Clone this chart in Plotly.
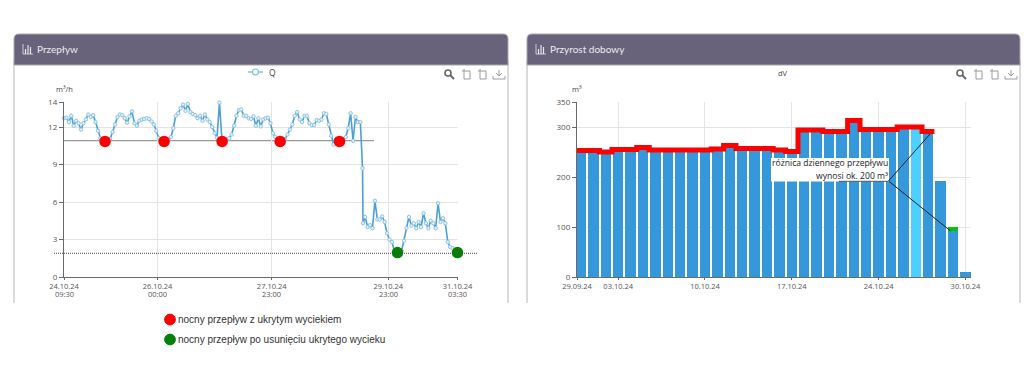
import pandas as pd
import plotly.graph_objects as go

# ---------- data ----------
flow_hours = list(range(123)) + [122.9, 123.1] + list(range(124, 163))
flow_values = [
    12.7, 12.75, 12.4, 12.9, 12.1, 12.5, 12.3, 11.8, 12.3, 12.6, 13.0, 12.8, 12.95, 12.4, 11.7, 11.1,
    11.0, 10.95, 11.0, 11.05, 11.6, 12.2, 12.8, 13.0, 12.95, 12.7, 12.35, 12.85, 13.25, 12.3, 12.1, 12.5,
    12.6, 12.65, 12.7, 12.65, 12.45, 12.2, 11.7, 11.1, 11.0, 10.95, 11.0, 11.0, 11.2, 11.9, 12.9, 13.1,
    13.5, 13.8, 13.3, 13.85, 13.2, 13.05, 12.95, 12.7, 12.9, 12.5, 13.0, 12.6, 12.4, 12.0, 11.5, 11.15,
    13.95, 11.0, 11.0, 11.0, 11.1, 11.4, 12.1, 12.9, 13.35, 13.4, 12.9, 12.9, 12.7, 12.65, 12.85, 12.1,
    12.7, 12.05, 12.6, 12.7, 12.75, 12.3, 11.5, 11.2, 11.05, 11.0, 11.0, 11.0, 11.4, 11.8, 12.2, 12.9,
    13.2, 12.6, 12.4, 12.9, 12.9, 12.3, 12.15, 12.15, 12.55, 12.5, 12.6, 13.1, 13.05, 12.2, 11.3, 10.6,
    11.0, 11.0, 11.0, 11.0, 11.2, 11.9, 13.1, 10.9, 12.8, 12.4, 12.4, 8.7, 4.3,
    4.8, 4.0, 4.15, 3.9, 6.1, 4.6, 4.6, 4.85, 4.4, 3.5, 3.0, 2.8, 2.1, 1.95, 1.95, 2.1, 2.9, 3.9, 4.8,
    4.1, 4.3, 3.9, 4.4, 4.0, 5.1, 4.3, 3.9, 4.5, 4.3, 3.9, 5.9, 4.4, 4.7, 4.3, 2.8, 2.4, 2.3, 2.0, 1.95,
]
leak_hours = [16.9, 41.2, 65.1, 89.0, 113.4]
leak_level = 10.85
fixed_hours = [137.3, 162.0]
fixed_level = 1.95
flow_tick_hours = [0, 38.5, 85.5, 133.5, 162]
flow_tick_dates = ["24.10.24", "26.10.24", "27.10.24", "29.10.24", "31.10.24"]
flow_tick_times = ["09:30", "00:00", "23:00", "23:00", "03:30"]
flow_y_ticks = [0, 3, 6, 9, 12, 14]

daily_values = [250, 250, 247, 252, 252, 256, 251, 251, 251, 251, 251, 253, 260, 254, 254, 254,
                251, 248, 291, 291, 288, 288, 310, 292, 292, 292, 297, 297, 288, 192, 92, 10]
daily_extra = [0] * 30 + [8, 0]
daily_outline = [253, 253, 250, 255, 255, 259, 254, 254, 254, 254, 254, 256, 263, 257, 257, 257,
                 254, 251, 294, 294, 291, 291, 313, 295, 295, 295, 300, 300, 291]
daily_tick_pos = [-0.32, 3, 10, 17, 24, 31]
daily_tick_text = ["29.09.24", "03.10.24", "10.10.24", "17.10.24", "24.10.24", "30.10.24"]
daily_y_ticks = [0, 100, 200, 300, 350]
callout_vertex = (24.8, 192)
callout_top = (28.15, 286)
callout_low = (29.8, 92)

# ---------- helpers ----------
W, H = 1024, 383
def fx(x): return x / W
def fy(y): return 1 - y / H

FONT = "Open Sans"
TICK = "#555555"
start = pd.Timestamp("2024-10-24 09:30")
def stamp(h): return (start + pd.Timedelta(hours=float(h))).strftime("%Y-%m-%d %H:%M:%S")

fig = go.Figure()
shapes, notes = [], []

def rect(x0, y0, x1, y1, fill, line=None, layer="below"):
    shapes.append(dict(type="rect", xref="paper", yref="paper", x0=fx(x0), x1=fx(x1), y0=fy(y0), y1=fy(y1),
                       fillcolor=fill, line=dict(width=0 if line is None else 1, color=line or fill), layer=layer))

def seg(x0, y0, x1, y1, color, width=1, dash=None, layer="above"):
    shapes.append(dict(type="line", xref="paper", yref="paper", x0=fx(x0), x1=fx(x1), y0=fy(y0), y1=fy(y1),
                       line=dict(color=color, width=width, dash=dash), layer=layer))

def circle(cx, cy, r, fill, line=None, lw=1, layer="above"):
    shapes.append(dict(type="circle", xref="paper", yref="paper", x0=fx(cx - r), x1=fx(cx + r), y0=fy(cy + r), y1=fy(cy - r),
                       fillcolor=fill, line=dict(color=line or fill, width=lw), layer=layer))

def text(x, y, s, size=9, color=TICK, anchor="left", family=FONT):
    notes.append(dict(xref="paper", yref="paper", x=fx(x), y=fy(y), text=s, showarrow=False, xanchor=anchor,
                      yanchor="middle", font=dict(size=size, color=color, family=family), borderpad=0))

def panel(x0, x1, title):
    r = 5
    seg(x0, 60, x0, 303, "#cfcfcf", 1.5, layer="below")
    seg(x1, 60, x1, 303, "#cfcfcf", 1.5, layer="below")
    path = (f"M {fx(x0)} {fy(65)} L {fx(x0)} {fy(34 + r)} Q {fx(x0)} {fy(34)} {fx(x0 + r)} {fy(34)} "
            f"L {fx(x1 - r)} {fy(34)} Q {fx(x1)} {fy(34)} {fx(x1)} {fy(34 + r)} L {fx(x1)} {fy(65)} Z")
    shapes.append(dict(type="path", xref="paper", yref="paper", path=path, fillcolor="#68637b",
                       line=dict(color="#a9a6b4", width=1), layer="below"))
    ix = x0 + 9
    seg(ix, 44, ix, 54, "#e6e4ec", 0.8)
    seg(ix, 54, ix + 10, 54, "#e6e4ec", 0.8)
    for dx, top in ((2.5, 49), (5, 45), (7.5, 47)):
        seg(ix + dx, top, ix + dx, 54, "#e6e4ec", 1.2)
    text(x0 + 22, 49, title, size=10, color="#ecebf0", family="Lato")

def toolbox(x):
    g = "#9a9a9a"
    circle(x - 1, 73, 3, "rgba(0,0,0,0)", "#666666", 1.6)
    seg(x + 1, 75, x + 5, 79, "#666666", 2)
    for cx in (x + 18, x + 34):
        shapes.append(dict(type="path", xref="paper", yref="paper", line=dict(color=g, width=1),
                           path=(f"M {fx(cx - 5)} {fy(71)} L {fx(cx + 3)} {fy(71)} L {fx(cx + 3)} {fy(79)} L {fx(cx - 3)} {fy(79)} "
                                 f"L {fx(cx - 3)} {fy(69)}")))
    dx = x + 50
    seg(dx, 70, dx, 76, g)
    seg(dx - 3, 73, dx, 76, g)
    seg(dx + 3, 73, dx, 76, g)
    seg(dx - 6, 76, dx - 6, 79, g)
    seg(dx - 6, 79, dx + 6, 79, g)
    seg(dx + 6, 76, dx + 6, 79, g)

panel(14, 508, "Przepływ")
panel(527, 1020, "Przyrost dobowy")
toolbox(449)
toolbox(961)

# ---------- flow chart ----------
fig.add_trace(go.Scatter(
    x=[stamp(h) for h in flow_hours], y=flow_values, mode="lines+markers", name="Q", xaxis="x", yaxis="y",
    line=dict(color="#4b9fd3", width=1.6), cliponaxis=False,
    marker=dict(symbol="circle", size=3.4, color="#e4f2fa", line=dict(color="#8cc4e4", width=1)),
    showlegend=False,
))
fig.add_trace(go.Scatter(
    x=[stamp(h) for h in leak_hours], y=[leak_level] * len(leak_hours), mode="markers", xaxis="x", yaxis="y",
    marker=dict(size=11.5, color="#fe0000"), cliponaxis=False, showlegend=False,
))
fig.add_trace(go.Scatter(
    x=[stamp(h) for h in fixed_hours], y=[fixed_level] * len(fixed_hours), mode="markers", xaxis="x", yaxis="y",
    marker=dict(size=11.5, color="#068006"), cliponaxis=False, showlegend=False,
))
seg(64, 140.7, 374, 140.7, "#808080", 1, layer="below")
seg(54, 253.3, 478, 253.3, "#444444", 1, dash="1px,1px", layer="above")

seg(248, 72, 263, 72, "#6fb2da", 1.2)
circle(255.5, 72, 3, "#ffffff", "#7dbbdf", 1.1)
text(268, 72, "Q", size=8.5, color="#444444")
text(55, 89, "m³/h", size=7.5, color="#444444")
for h, t in zip(flow_tick_hours, flow_tick_times):
    notes.append(dict(xref="x", yref="paper", x=stamp(h), y=fy(293), text=t, showarrow=False, xanchor="center",
                      yanchor="middle", height=7, font=dict(size=7.5, color=TICK, family=FONT), borderpad=0))

# ---------- daily chart ----------
colors = ["#4dcfff" if i == 27 else "#3498db" for i in range(len(daily_values))]
fig.add_trace(go.Bar(x=list(range(len(daily_values))), y=daily_values, xaxis="x2", yaxis="y2", width=0.85,
                     marker=dict(color=colors, line=dict(width=0)), showlegend=False))
fig.add_trace(go.Bar(x=list(range(len(daily_extra))), y=daily_extra, xaxis="x2", yaxis="y2", width=0.85,
                     marker=dict(color="#00c800", line=dict(width=0)), showlegend=False))
edges = [max(i - 0.5, daily_tick_pos[0]) for i in range(len(daily_outline))] + [len(daily_outline) - 0.5]
fig.add_trace(go.Scatter(x=edges, y=daily_outline + [daily_outline[-1]], mode="lines", xaxis="x2", yaxis="y2",
                         line=dict(color="#fe0000", width=5, shape="hv"), showlegend=False, cliponaxis=False))

rect(771, 158, 889, 181.5, "#ffffff", layer="above")
for a, b in ((callout_vertex, callout_top), (callout_vertex, callout_low)):
    shapes.append(dict(type="line", xref="x2", yref="y2", x0=a[0], y0=a[1], x1=b[0], y1=b[1],
                       line=dict(color="#222222", width=1), layer="above"))
seg(839, 181.3, 888, 181.3, "#333333", 0.8)
text(889, 163, "różnica dziennego przepływu", size=8.6, color="#222222", anchor="right")
text(889, 175.5, "wynosi ok. 200 m³", size=8.6, color="#222222", anchor="right")
text(783, 73, "dV", size=7.5, color="#444444", anchor="center")
text(577, 89, "m³", size=7.5, color="#444444", anchor="center")

# ---------- bottom key ----------
circle(170, 319.5, 5.4, "#fe0000")
circle(170, 339.5, 5.4, "#068006")
text(177, 319.5, "nocny przepływ z ukrytym wyciekiem", size=10, color="#333333", family="Liberation Sans")
text(177, 339, "nocny przepływ po usunięciu ukrytego wycieku", size=10, color="#333333", family="Liberation Sans")

# ---------- axes ----------
grid = "#e4e4e4"
axis_line = "#6a6a6a"
common_x = dict(showgrid=True, gridcolor=grid, gridwidth=1, showline=True, linecolor=axis_line, linewidth=1.3,
                ticks="outside", ticklen=2, tickcolor=axis_line, tickwidth=1, tickangle=0, zeroline=False,
                tickfont=dict(size=7.5, color=TICK, family=FONT))
common_y = dict(showgrid=True, gridcolor=grid, gridwidth=1, showline=True, linecolor=axis_line, linewidth=1.3,
                ticks="outside", ticklen=4, tickcolor=axis_line, tickwidth=1, zeroline=False,
                tickfont=dict(size=8, color=TICK, family=FONT))

fig.update_layout(
    width=W, height=H, margin=dict(l=0, r=0, t=0, b=0, autoexpand=False), autosize=False,
    paper_bgcolor="#ffffff", plot_bgcolor="#ffffff", barmode="stack", bargap=0,
    xaxis=dict(type="date", domain=[fx(64), fx(457.5)], range=[stamp(0), stamp(162)], anchor="y",
               tickmode="array", tickvals=[stamp(h) for h in flow_tick_hours], ticktext=flow_tick_dates, **common_x),
    yaxis=dict(domain=[fy(277), fy(102)], range=[0, 14], anchor="x", tickmode="array", tickvals=flow_y_ticks, **common_y),
    xaxis2=dict(domain=[fx(577), fx(971)], range=[daily_tick_pos[0], 31.45], anchor="y2",
                tickmode="array", tickvals=daily_tick_pos, ticktext=daily_tick_text, **common_x),
    yaxis2=dict(domain=[fy(277), fy(102)], range=[0, 350], anchor="x2", tickmode="array", tickvals=daily_y_ticks, **common_y),
    shapes=shapes, annotations=notes, hovermode=False,
)

fig.write_html("out.html", config=dict(displayModeBar=False),
               post_script="document.body.style.margin='0';")
